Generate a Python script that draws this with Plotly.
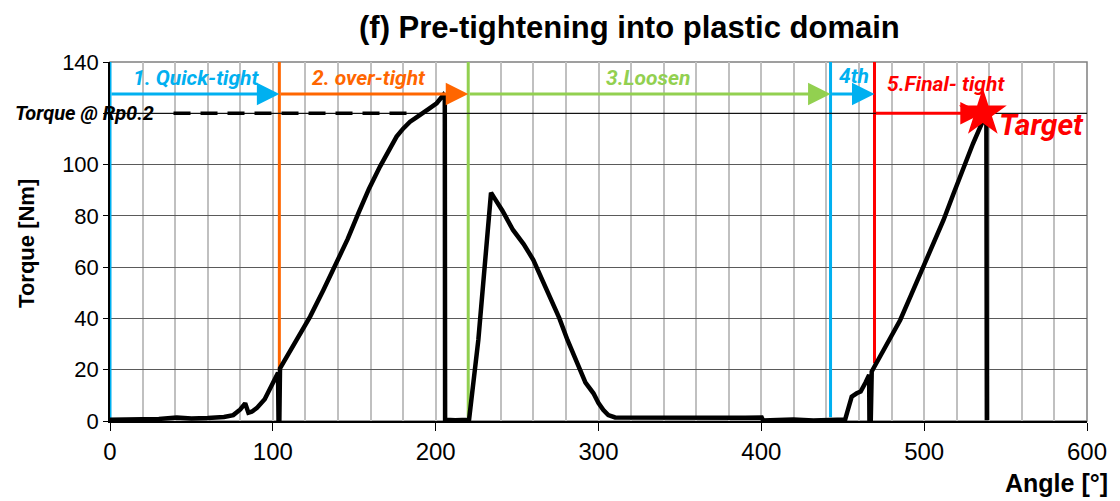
import plotly.graph_objects as go

# Measured torque vs. rotation angle
angle = [0, 10, 20, 30, 41, 50, 60, 70, 75.7, 80, 83, 85, 87, 90.1, 95, 100.3, 103.2, 103.5, 104.0,
         104.4, 113, 122.9, 131, 139.2, 146, 152.5, 159, 165.8, 171, 176, 180, 184.3, 188,
         192.5, 196, 200.6, 203, 204.7, 205.6, 205.8, 212, 220.5, 226.2, 230, 234, 236, 241,
         247.5, 254, 260, 268, 276, 281, 286.6, 292, 296.9, 300, 303, 306, 310.2, 330, 350, 370,
         390, 400.2, 401, 410, 419.7, 432, 445, 451.5, 453, 455.5, 458.6, 461, 464, 466.2, 466.4,
         467.2, 467.8, 470, 477, 485.3, 492, 499.6, 505.5, 511.9, 518, 524.2, 530, 535.4, 537,
         538.2, 538.5]
torque = [0.5, 0.6, 0.7, 0.8, 1.4, 1.0, 1.2, 1.6, 2.3, 4.5, 6.9, 3.2, 3.6, 5.0, 8.5, 14.7, 18.8, 0.3, 0.3,
          20.5, 30.0, 40.7, 51.0, 61.5, 71.0, 81.0, 90.5, 99.2, 105.5, 110.9, 114.0, 116.7, 118.3,
          120.0, 121.8, 123.9, 125.5, 127.1, 126.0, 0.5, 0.3, 0.5, 31.6, 60.0, 89.0, 87.0, 82.0,
          74.5, 69.0, 62.8, 51.0, 40.0, 31.5, 22.5, 15.0, 10.8, 7.0, 4.3, 2.3, 1.4, 1.3, 1.2, 1.4,
          1.3, 1.4, 0.2, 0.4, 0.6, 0.2, 0.4, 0.6, 4.0, 9.5, 10.8, 11.5, 15.0, 18.0, 0.3,
          0.3, 19.3, 21.8, 29.8, 39.4, 49.2, 60.2, 69.2, 78.4, 88.6, 99.2, 108.2, 116.1, 117.0,
          116.5, 0.3]

# Phase boundaries (angle), their colours and the arrow labels
phase_start = [0, 104, 220, 442.5, 469.5]
phase_end = [104, 220, 442.5, 469.5, 536]
phase_line_bottom = [0, 20, 1.5, 1.5, 22.5]
phase_colors = ["#00b0f0", "#ff6600", "#92d050", "#00b0f0", "#ff0000"]
phase_labels = ["1. Quick-tight", "2. over-tight", "3.Loosen", "4th", "5.Final- tight"]
label_pos = [(53, 133.8), (159, 133.8), (331, 133.8), (456.6, 134.4), (513.4, 131.4)]
arrow_level = [127.5, 127.5, 127.5, 127.5, 120]

rp02_torque = 120
rp02_dash_x = [39, 186]
target = (536, 120)

y_ticks = [0, 20, 40, 60, 80, 100, 120, 140]
y_tick_text = ["0", "20", "40", "60", "80", "100", "", "140"]

fig = go.Figure()

# Phase boundary lines
for x0, yb, col in zip(phase_start, phase_line_bottom, phase_colors):
    fig.add_trace(go.Scatter(x=[x0, x0], y=[yb, 140], mode="lines",
                             line=dict(color=col, width=3), hoverinfo="skip", showlegend=False))

# Reference level line and dashed marker for the yield torque
fig.add_trace(go.Scatter(x=[0, 600], y=[rp02_torque, rp02_torque], mode="lines",
                         line=dict(color="black", width=1), hoverinfo="skip", showlegend=False))
fig.add_trace(go.Scatter(x=rp02_dash_x, y=[rp02_torque, rp02_torque], mode="lines",
                         line=dict(color="black", width=3.5, dash="17px,10px"),
                         hoverinfo="skip", showlegend=False))

# Torque curve
fig.add_trace(go.Scatter(x=angle, y=torque, mode="lines",
                         line=dict(color="black", width=4.5), hoverinfo="skip", showlegend=False))

# Target marker
fig.add_trace(go.Scatter(x=[target[0]], y=[target[1]], mode="markers",
                         marker=dict(symbol="star", size=36, color="#ff0000",
                                     line=dict(width=0)),
                         hoverinfo="skip", showlegend=False))

label_font = "Roboto, 'Open Sans', sans-serif"


def label_style(size, color):
    return dict(family=label_font, size=size, color=color, weight="bold", style="italic")


# Phase arrows and labels
for x0, x1, lvl, col, lab, (lx, ly) in zip(phase_start, phase_end, arrow_level,
                                              phase_colors, phase_labels, label_pos):
    fig.add_annotation(x=x1, y=lvl, ax=x0, ay=lvl, xref="x", yref="y", axref="x", ayref="y",
                       text="", showarrow=True, arrowhead=2, arrowsize=1.5, arrowwidth=3,
                       arrowcolor=col, standoff=0)
    fig.add_annotation(x=lx, y=ly, xref="x", yref="y", showarrow=False,
                       text=lab, font=label_style(21, col))

fig.add_annotation(x=572, y=115.8, xref="x", yref="y", showarrow=False,
                   text="Target", font=label_style(30, "#ff0000"))

fig.add_annotation(x=-0.099, y=rp02_torque, xref="paper", yref="y", xanchor="left",
                   yanchor="middle", showarrow=False, text="Torque @ Rp0.2",
                   font=label_style(20, "black"))

# Title and axis titles
fig.add_annotation(x=0.532, y=1.095, xref="paper", yref="paper", showarrow=False,
                   xanchor="center", yanchor="middle",
                   text="<b>(f) Pre-tightening into plastic domain</b>",
                   font=dict(family="Liberation Sans, Arial", size=31, color="black"))
fig.add_annotation(x=-0.085, y=0.496, xref="paper", yref="paper", showarrow=False,
                   xanchor="center", yanchor="middle",
                   textangle=-90, text="<b>Torque [Nm]</b>",
                   font=dict(family="Liberation Sans, Arial", size=22, color="black"))
fig.add_annotation(x=1.0235, y=-0.173, xref="paper", yref="paper", showarrow=False,
                   xanchor="right", yanchor="middle", text="<b>Angle [°]</b>",
                   font=dict(family="Liberation Sans, Arial", size=25, color="black"))

# Plot frame (top/right)
fig.add_shape(type="rect", xref="paper", yref="paper", x0=0, y0=0, x1=1, y1=1,
              line=dict(color="#808080", width=1.5), layer="below")

fig.update_layout(
    width=1120, height=501,
    margin=dict(l=110, r=33, t=62, b=80),
    paper_bgcolor="white", plot_bgcolor="white",
    font=dict(family="Liberation Sans, Arial", size=21, color="black"),
    xaxis=dict(range=[0, 600], dtick=100, tick0=0, showgrid=True, gridcolor="#c0c0c0",
               gridwidth=1.5, minor=dict(dtick=20, showgrid=True, gridcolor="#c0c0c0",
                                         gridwidth=1.5),
               ticks="outside", ticklen=8, tickcolor="black", showline=True,
               linecolor="black", linewidth=1.5, zeroline=False,
               tickfont=dict(size=24)),
    yaxis=dict(range=[0, 140], tickmode="array", tickvals=y_ticks, ticktext=y_tick_text,
               showgrid=True, gridcolor="#5a5a5a",
               gridwidth=1, ticks="outside", ticklen=5, tickcolor="black", showline=True,
               linecolor="black", linewidth=1.5, zeroline=False,
               tickfont=dict(size=22)),
)

fig.write_html("out.html")
